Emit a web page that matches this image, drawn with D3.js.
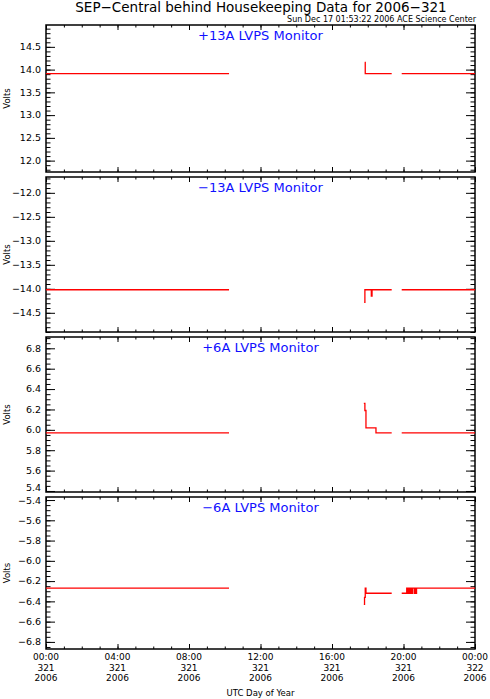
<!DOCTYPE html>
<head>
<meta charset="utf-8">
<title>SEP-Central behind Housekeeping</title>
<style>
body { margin: 0; background: #fff; }
text { font-family: "DejaVu Sans", "Liberation Sans", sans-serif; fill: #000; }
.frame { fill: none; stroke: #000; stroke-width: 1.5px; }
.tick line { stroke: #000; stroke-width: 1px; }
.data { fill: none; stroke: #ff0000; stroke-width: 1.3px; }
.ptitle { fill: #1010ff; font-size: 13px; }
</style>
</head>
<body>
<script src="https://cdn.jsdelivr.net/npm/d3@7"></script>
<script>

// Panel names and y ranges
var panelNames = ["+13A LVPS Monitor", "\u221213A LVPS Monitor", "+6A LVPS Monitor", "\u22126A LVPS Monitor"];
var yDomains = [[11.75, 14.98], [-14.90, -11.67], [5.39, 6.911], [-6.87, -5.37]];
var yMajor = [0.5, 0.5, 0.2, 0.2];
var yMinor = [0.1, 0.1, 0.05, 0.05];

// Hours of day 321 (null = data gap) and the voltage at each point
var p13Hours = [0, 10.24, null, 17.83, 17.86, 19.34, null, 19.9, 24];
var p13Volts = [13.91, 13.91, null, 14.16, 13.91, 13.91, null, 13.91, 13.91];

var m13Hours = [0, 10.24, null, 17.8, 17.84, 18.2, 18.24, 19.34, null, 19.9, 24];
var m13Volts = [-14.02, -14.02, null, -14.28, -14.02, -14.15, -14.02, -14.02, null, -14.02, -14.02];

var p6Hours = [0, 10.24, null, 17.78, 17.84, 17.9, 18.46, 19.34, null, 19.9, 24];
var p6Volts = [5.97, 5.97, null, 6.26, 6.19, 6.02, 5.97, 5.97, null, 5.97, 5.97];

var m6Hours = [0, 10.24, null, 17.78, 17.82, 17.86, 17.9, 19.34, null,
               19.9, 20.18, 20.22, 20.26, 20.3, 20.34, 20.38, 20.42, 20.46, 20.5, 20.6, 20.63, 20.7, 20.73, 24];
var m6Volts = [-6.27, -6.27, null, -6.43, -6.36, -6.27, -6.32, -6.32, null,
               -6.32, -6.27, -6.32, -6.27, -6.32, -6.27, -6.32, -6.27, -6.32, -6.27, -6.32, -6.27, -6.32, -6.27, -6.27];

var seriesHours = [p13Hours, m13Hours, p6Hours, m6Hours];
var seriesVolts = [p13Volts, m13Volts, p6Volts, m6Volts];

// x axis ticks
var xMajorHours = [0, 4, 8, 12, 16, 20, 24];
var xTimeLabels = ["00:00", "04:00", "08:00", "12:00", "16:00", "20:00", "00:00"];
var xDayLabels = ["321", "321", "321", "321", "321", "321", "322"];
var xYearLabels = ["2006", "2006", "2006", "2006", "2006", "2006", "2006"];

var width = 490, height = 699;
var left = 46, right = 475;
var panelTops = [25, 177, 337, 497];
var panelBottoms = [172, 332, 492, 649];

var svg = d3.select("body").append("svg")
    .attr("width", width)
    .attr("height", height);

var x = d3.scaleLinear().domain([0, 24]).range([left, right]);

// Title and stamp
svg.append("text")
    .attr("x", 261).attr("y", 12)
    .attr("text-anchor", "middle")
    .style("font-size", "13.5px")
    .text("SEP\u2212Central behind Housekeeping Data for 2006\u2212321");

svg.append("text")
    .attr("x", 476).attr("y", 22)
    .attr("text-anchor", "end")
    .style("font-size", "8px")
    .text("Sun Dec 17 01:53:22 2006 ACE Science Center");

var fmt = d3.format(".1f");

panelNames.forEach(function(name, i) {
  var top = panelTops[i], bottom = panelBottoms[i];
  var y = d3.scaleLinear().domain(yDomains[i]).range([bottom, top]);
  var g = svg.append("g");

  // major / minor tick values inside the domain
  var d0 = yDomains[i][0], d1 = yDomains[i][1];
  var majors = d3.range(Math.ceil(d0 / yMajor[i] - 1e-6), Math.floor(d1 / yMajor[i] + 1e-6) + 1)
      .map(function(k) { return +(k * yMajor[i]).toFixed(3); });
  var minors = d3.range(Math.ceil(d0 / yMinor[i] - 1e-6), Math.floor(d1 / yMinor[i] + 1e-6) + 1)
      .map(function(k) { return +(k * yMinor[i]).toFixed(3); });

  // left axis with labels
  g.append("g")
      .attr("class", "tick")
      .attr("transform", "translate(" + left + ",0)")
      .call(d3.axisRight(y).tickValues(minors).tickSize(4.5).tickFormat(""))
      .call(function(a) { a.select(".domain").remove(); });
  g.append("g")
      .attr("class", "tick")
      .attr("transform", "translate(" + left + ",0)")
      .call(d3.axisRight(y).tickValues(majors).tickSize(9).tickFormat(""))
      .call(function(a) { a.select(".domain").remove(); });
  g.selectAll(".ylab")
      .data(majors)
      .enter().append("text")
      .attr("class", "ylab")
      .attr("x", left - 5)
      .attr("y", function(d) { return Math.max(top + 4, Math.min(bottom - 4, y(d))); })
      .attr("dy", "0.35em")
      .attr("text-anchor", "end")
      .style("font-size", "9.5px")
      .text(function(d) { return fmt(d); });

  // right axis, ticks pointing inward
  g.append("g")
      .attr("class", "tick")
      .attr("transform", "translate(" + right + ",0)")
      .call(d3.axisLeft(y).tickValues(minors).tickSize(4.5).tickFormat(""))
      .call(function(a) { a.select(".domain").remove(); });
  g.append("g")
      .attr("class", "tick")
      .attr("transform", "translate(" + right + ",0)")
      .call(d3.axisLeft(y).tickValues(majors).tickSize(9).tickFormat(""))
      .call(function(a) { a.select(".domain").remove(); });

  // x ticks on bottom and top of every panel
  var hourTicks = d3.range(0, 25);
  [[bottom, d3.axisTop], [top, d3.axisBottom]].forEach(function(p) {
    g.append("g")
        .attr("class", "tick")
        .attr("transform", "translate(0," + p[0] + ")")
        .call(p[1](x).tickValues(hourTicks).tickSize(2.5).tickFormat(""))
        .call(function(a) { a.select(".domain").remove(); });
    g.append("g")
        .attr("class", "tick")
        .attr("transform", "translate(0," + p[0] + ")")
        .call(p[1](x).tickValues(xMajorHours).tickSize(5).tickFormat(""))
        .call(function(a) { a.select(".domain").remove(); });
  });

  // frame
  g.append("rect")
      .attr("class", "frame")
      .attr("x", left).attr("y", top)
      .attr("width", right - left).attr("height", bottom - top);

  // data
  var pts = seriesHours[i].map(function(h, k) { return {h: h, v: seriesVolts[i][k]}; });
  var line = d3.line()
      .defined(function(d) { return d.h !== null && d.v !== null; })
      .x(function(d) { return x(d.h); })
      .y(function(d) { return y(d.v); })
      .curve(d3.curveStepAfter);
  g.append("path")
      .datum(pts)
      .attr("class", "data")
      .attr("d", line);

  // panel title
  g.append("text")
      .attr("class", "ptitle")
      .attr("x", (left + right) / 2)
      .attr("y", top + 15)
      .attr("text-anchor", "middle")
      .text(name);

  // y label
  g.append("text")
      .attr("transform", "translate(10," + ((top + bottom) / 2) + ") rotate(-90)")
      .attr("text-anchor", "middle")
      .style("font-size", "8.5px")
      .text("Volts");
});

// bottom time labels, three lines each
var lastBottom = panelBottoms[3];
var rows = [xTimeLabels, xDayLabels, xYearLabels];
rows.forEach(function(labels, r) {
  svg.selectAll(".xlab" + r)
      .data(xMajorHours)
      .enter().append("text")
      .attr("class", "xlab" + r)
      .attr("x", function(h) { return x(h); })
      .attr("y", lastBottom + 11 + r * 10.5)
      .attr("text-anchor", "middle")
      .style("font-size", "9px")
      .text(function(h, k) { return labels[k]; });
});

svg.append("text")
    .attr("x", (left + right) / 2)
    .attr("y", 696)
    .attr("text-anchor", "middle")
    .style("font-size", "8.5px")
    .text("UTC Day of Year");

</script>
</body>
</html>
